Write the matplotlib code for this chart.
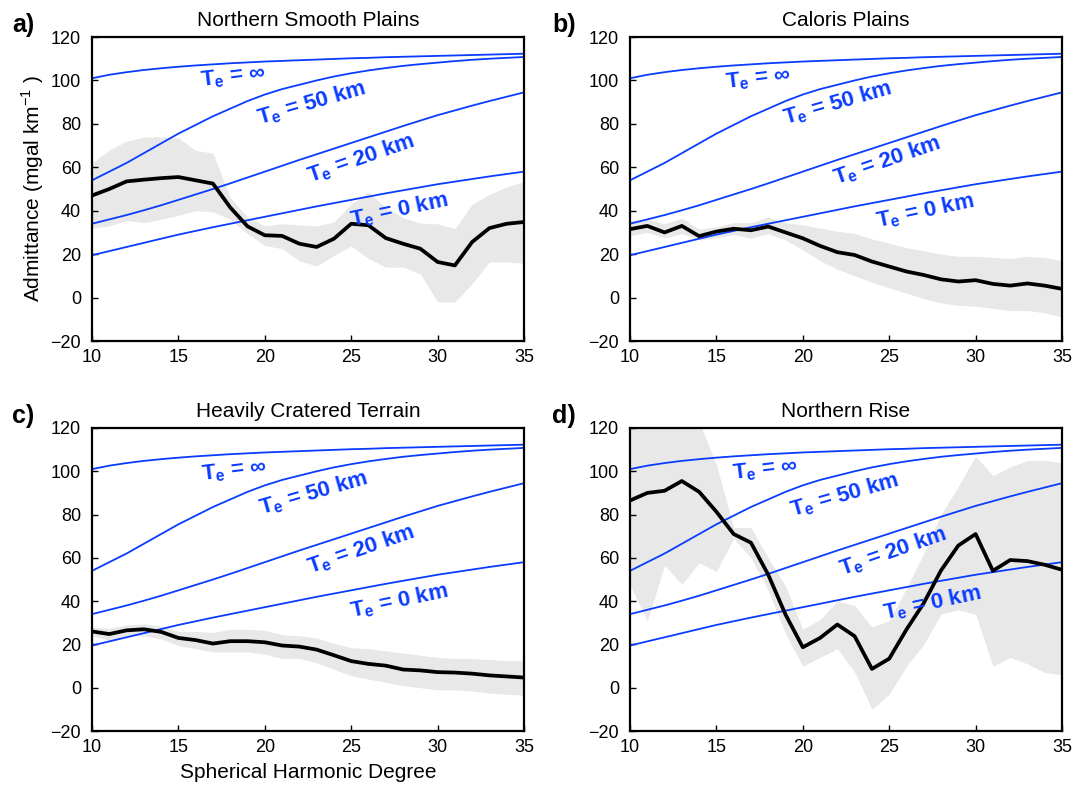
import numpy as np
import matplotlib
matplotlib.use("Agg")
import matplotlib.pyplot as plt

plt.rcParams['font.family'] = ['Liberation Sans', 'DejaVu Sans']
plt.rcParams['mathtext.fontset'] = 'custom'
plt.rcParams['mathtext.rm'] = 'Liberation Sans'
plt.rcParams['mathtext.bf'] = 'Liberation Sans:bold'

degree = list(range(10, 36))

# model admittance curves (same in every panel)
te_inf = [101, 102.6, 103.8, 104.8, 105.6, 106.3, 106.9, 107.4, 107.9, 108.3, 108.7, 109.0, 109.3,
          109.6, 109.9, 110.2, 110.4, 110.7, 110.9, 111.1, 111.3, 111.5, 111.7, 111.9, 112.1, 112.3]
te_50 = [54, 58, 62, 66.5, 71, 75.5, 79.5, 83.5, 87, 90.5, 93.5, 96, 98, 100, 101.8, 103.3,
         104.6, 105.7, 106.7, 107.5, 108.2, 108.9, 109.5, 110, 110.4, 110.8]
te_20 = [34, 36, 38, 40.2, 42.5, 45, 47.5, 50, 52.6, 55.3, 58, 60.7, 63.4, 66, 68.6, 71.2,
         73.8, 76.4, 79, 81.5, 84, 86.2, 88.4, 90.5, 92.5, 94.5]
te_0 = [19.5, 21.4, 23.3, 25.2, 27.1, 29, 30.7, 32.4, 34, 35.6, 37.2, 38.8, 40.4, 42, 43.5, 45,
        46.5, 48, 49.4, 50.8, 52.2, 53.4, 54.6, 55.8, 56.9, 58]

# observed admittance and error band
nsp = [47, 50, 53.5, 54.3, 55, 55.5, 54, 52.5, 41.5, 32.8, 28.7, 28.4, 24.8, 23.3, 27.1, 34,
       33.3, 27.4, 24.8, 22.5, 16.4, 14.8, 25.6, 32, 34, 34.8]
nsp_hi = [62, 68, 72, 74, 74, 73.5, 67.8, 66.5, 46, 37, 33, 34, 33.5, 33, 34.8, 43, 48.5,
          41.5, 36.8, 34.3, 34, 31.7, 43, 47.5, 51, 53.5]
nsp_lo = [32, 33, 35.5, 34.5, 36, 37.9, 40, 39.5, 36, 29.4, 24, 22.5, 17, 14.5, 19.4, 23.7,
          18, 14, 14, 11, -2, -2, 6.4, 16.4, 16.4, 15.8]

cal = [31.5, 33, 30, 33, 28.3, 30.4, 31.7, 31, 32.7, 30, 27.3, 23.8, 20.9, 19.6, 16.6, 14.3,
       12, 10.4, 8.4, 7.4, 8, 6.3, 5.5, 6.5, 5.5, 4]
cal_hi = [35.5, 36, 34, 36.5, 31.5, 32.5, 34.5, 34.5, 37, 34.5, 33.5, 32, 30.5, 29.5, 27, 25,
          23, 21.5, 20, 19, 19, 18.5, 18, 19, 18.5, 17]
cal_lo = [28.5, 30, 27.5, 29.5, 26.5, 27.5, 29, 27.3, 29.5, 26.5, 22, 17, 13, 10, 7, 4.5,
          2, -0.5, -2.5, -3.5, -4, -5, -6, -6, -7, -9]

hct = [26, 24.8, 26.5, 27, 25.8, 23, 22, 20.4, 21.5, 21.5, 21, 19.5, 19, 17.6, 15, 12.3,
       11, 10.2, 8.4, 8, 7.2, 7, 6.5, 5.7, 5.2, 4.7]
hct_hi = [28, 27.5, 29, 29.5, 28.5, 26, 26, 25.5, 27, 27, 26.5, 24.5, 24, 23, 20.5, 18.5,
          18, 17, 16, 15, 14, 13.5, 13.5, 13, 12.5, 12.5]
hct_lo = [24, 22, 24, 24, 22.5, 19.5, 18, 16.5, 16.5, 16.5, 15.5, 13.5, 13.5, 11.5, 8.5, 5.5,
          4, 2.5, 1, 0, -1, -1, -1.5, -2.5, -3, -3.5]

nr = [86.5, 90, 91, 95.5, 90.5, 81.3, 71, 67, 52.2, 33.8, 18.7, 23, 29.2, 23.8, 8.7, 13.4,
      26.9, 39.1, 54.2, 65.7, 71, 54, 59, 58.5, 56.8, 54.5]
nr_hi = [125, 125, 125, 125, 123, 103, 74, 74, 60, 47, 27, 31.5, 40, 38, 28, 31, 46, 62,
         80, 93, 107, 98, 102, 105, 105, 104]
nr_lo = [47.5, 30.8, 56.6, 47.7, 57.7, 53.8, 69, 60, 45, 25, 10, 14, 18, 7.2, -10, -3, 10,
         20, 34, 36, 34, 10, 14, 11, 7, 6]

titles = ['Northern Smooth Plains', 'Caloris Plains', 'Heavily Cratered Terrain', 'Northern Rise']
letters = ['a)', 'b)', 'c)', 'd)']
te_labels = ['T$_\\mathbf{e}$ = \u221e', 'T$_\\mathbf{e}$ = 50 km',
             'T$_\\mathbf{e}$ = 20 km', 'T$_\\mathbf{e}$ = 0 km']

obs = [(nsp, nsp_lo, nsp_hi), (cal, cal_lo, cal_hi), (hct, hct_lo, hct_hi), (nr, nr_lo, nr_hi)]
models = [te_inf, te_50, te_20, te_0]

# label placement per panel (data coords) and rotation
label_pos = [
    [(18.15, 101.9), (22.7, 89.3), (25.6, 64), (27.8, 40.2)],
    [(17.4, 100.9), (22.0, 89.4), (24.9, 63.3), (27.1, 39.6)],
    [(18.2, 100.4), (22.8, 89.8), (25.6, 64), (27.8, 39.9)],
    [(17.8, 100.5), (22.4, 89), (25.2, 63), (27.5, 39)],
]
label_rot = [7, 16, 19, 12]

W, H = 1086, 788
boxes = [(92, 37, 524, 341), (630, 37, 1062, 341), (92, 428, 524, 731), (630, 428, 1062, 731)]
blue = '#0a3cff'

fig = plt.figure(figsize=(W / 100, H / 100), dpi=100)
for i, (x0, y0, x1, y1) in enumerate(boxes):
    ax = fig.add_axes([x0 / W, 1 - y1 / H, (x1 - x0) / W, (y1 - y0) / H])
    line, lo, hi = obs[i]
    ax.fill_between(degree, lo, hi, color='#e8e8e8', lw=0, zorder=1)
    for m in models:
        ax.plot(degree, m, color=blue, lw=1.3, zorder=2)
    ax.plot(degree, line, color='black', lw=2.7, zorder=3)
    for (lx, ly), txt, rot in zip(label_pos[i], te_labels, label_rot):
        ax.text(lx, ly, txt, color=blue, fontsize=16, fontweight='bold', rotation=rot,
                rotation_mode='anchor', ha='center', va='center', zorder=4)
    ax.set_xlim(10, 35)
    ax.set_ylim(-20, 120)
    ax.set_xticks([10, 15, 20, 25, 30, 35])
    ax.set_yticks(range(-20, 121, 20))
    ax.set_yticklabels(['\u221220' if v < 0 else str(v) for v in range(-20, 121, 20)])
    ax.tick_params(direction='in', length=4, width=1, labelsize=13, pad=6)
    ax.tick_params(axis='y', pad=8)
    for s in ax.spines.values():
        s.set_linewidth(1.6)
    ax.set_title(titles[i], fontsize=15, pad=8)
    lx0 = 12 if i % 2 == 0 else x0 - 78
    fig.text(lx0 / W, 1 - (y0 - 12) / H, letters[i], fontsize=18,
             fontweight='bold', ha='left', va='center')
    if i == 0:
        ax.set_ylabel('Admittance (mgal km$^{-1}$ )', fontsize=15, labelpad=3)
    if i == 2:
        ax.set_xlabel('Spherical Harmonic Degree', fontsize=15, labelpad=5)

fig.savefig('out.png', dpi=100)
